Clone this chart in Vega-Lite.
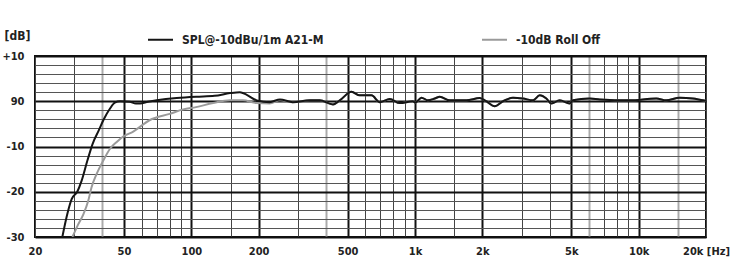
{
  "$schema": "https://vega.github.io/schema/vega-lite/v6.json",
  "autosize": {"type": "none"},
  "width": 671,
  "height": 181,
  "padding": {"left": 35, "top": 56, "right": 28, "bottom": 42},
  "background": "white",
  "config": {
    "font": "Liberation Sans Narrow, DejaVu Sans Condensed, Liberation Sans",
    "view": {"stroke": "#111", "strokeWidth": 2}
  },
  "data": {"values": [
    {"f": 29.4, "db": -30, "s": "-10dB Roll Off"},
    {"f": 31.2, "db": -27.2, "s": "-10dB Roll Off"},
    {"f": 32.9, "db": -25, "s": "-10dB Roll Off"},
    {"f": 34.6, "db": -22, "s": "-10dB Roll Off"},
    {"f": 35.8, "db": -19, "s": "-10dB Roll Off"},
    {"f": 37.7, "db": -16.1, "s": "-10dB Roll Off"},
    {"f": 40.4, "db": -13.1, "s": "-10dB Roll Off"},
    {"f": 43.3, "db": -10.5, "s": "-10dB Roll Off"},
    {"f": 46.4, "db": -9.0, "s": "-10dB Roll Off"},
    {"f": 49.6, "db": -7.8, "s": "-10dB Roll Off"},
    {"f": 55, "db": -6.7, "s": "-10dB Roll Off"},
    {"f": 65, "db": -4.2, "s": "-10dB Roll Off"},
    {"f": 80, "db": -2.8, "s": "-10dB Roll Off"},
    {"f": 92, "db": -1.8, "s": "-10dB Roll Off"},
    {"f": 105, "db": -1.3, "s": "-10dB Roll Off"},
    {"f": 125, "db": -0.4, "s": "-10dB Roll Off"},
    {"f": 149, "db": 0.2, "s": "-10dB Roll Off"},
    {"f": 170, "db": 0.2, "s": "-10dB Roll Off"},
    {"f": 196, "db": -0.4, "s": "-10dB Roll Off"},
    {"f": 224, "db": -0.5, "s": "-10dB Roll Off"},
    {"f": 249, "db": 0.2, "s": "-10dB Roll Off"},
    {"f": 284, "db": -0.2, "s": "-10dB Roll Off"},
    {"f": 339, "db": 0.2, "s": "-10dB Roll Off"},
    {"f": 375, "db": 0.2, "s": "-10dB Roll Off"},
    {"f": 430, "db": -0.7, "s": "-10dB Roll Off"},
    {"f": 461, "db": 0.2, "s": "-10dB Roll Off"},
    {"f": 520, "db": 2.1, "s": "-10dB Roll Off"},
    {"f": 566, "db": 1.3, "s": "-10dB Roll Off"},
    {"f": 639, "db": 1.3, "s": "-10dB Roll Off"},
    {"f": 696, "db": -0.2, "s": "-10dB Roll Off"},
    {"f": 771, "db": 0.5, "s": "-10dB Roll Off"},
    {"f": 855, "db": -0.4, "s": "-10dB Roll Off"},
    {"f": 977, "db": 0, "s": "-10dB Roll Off"},
    {"f": 1004, "db": -0.3, "s": "-10dB Roll Off"},
    {"f": 1069, "db": 0.8, "s": "-10dB Roll Off"},
    {"f": 1143, "db": 0.2, "s": "-10dB Roll Off"},
    {"f": 1225, "db": 0.6, "s": "-10dB Roll Off"},
    {"f": 1290, "db": 1.0, "s": "-10dB Roll Off"},
    {"f": 1430, "db": 0.2, "s": "-10dB Roll Off"},
    {"f": 1698, "db": 0.2, "s": "-10dB Roll Off"},
    {"f": 1946, "db": 0.7, "s": "-10dB Roll Off"},
    {"f": 2084, "db": 0, "s": "-10dB Roll Off"},
    {"f": 2271, "db": -1.1, "s": "-10dB Roll Off"},
    {"f": 2474, "db": 0, "s": "-10dB Roll Off"},
    {"f": 2742, "db": 0.8, "s": "-10dB Roll Off"},
    {"f": 3040, "db": 0.6, "s": "-10dB Roll Off"},
    {"f": 3370, "db": 0.2, "s": "-10dB Roll Off"},
    {"f": 3610, "db": 1.3, "s": "-10dB Roll Off"},
    {"f": 3866, "db": 0.6, "s": "-10dB Roll Off"},
    {"f": 4072, "db": -0.5, "s": "-10dB Roll Off"},
    {"f": 4436, "db": 0.2, "s": "-10dB Roll Off"},
    {"f": 4912, "db": -0.5, "s": "-10dB Roll Off"},
    {"f": 5084, "db": 0.2, "s": "-10dB Roll Off"},
    {"f": 6036, "db": 0.6, "s": "-10dB Roll Off"},
    {"f": 6694, "db": 0.4, "s": "-10dB Roll Off"},
    {"f": 9114, "db": 0.2, "s": "-10dB Roll Off"},
    {"f": 11996, "db": 0.6, "s": "-10dB Roll Off"},
    {"f": 13292, "db": 0.2, "s": "-10dB Roll Off"},
    {"f": 15240, "db": 0.8, "s": "-10dB Roll Off"},
    {"f": 17472, "db": 0.6, "s": "-10dB Roll Off"},
    {"f": 19366, "db": 0.2, "s": "-10dB Roll Off"},
    {"f": 20000, "db": 0.1, "s": "-10dB Roll Off"},
    {"f": 26.5, "db": -30, "s": "SPL@-10dBu/1m A21-M"},
    {"f": 28.0, "db": -24.6, "s": "SPL@-10dBu/1m A21-M"},
    {"f": 29.2, "db": -21.6, "s": "SPL@-10dBu/1m A21-M"},
    {"f": 30.9, "db": -20, "s": "SPL@-10dBu/1m A21-M"},
    {"f": 32.3, "db": -17.6, "s": "SPL@-10dBu/1m A21-M"},
    {"f": 34.3, "db": -13.1, "s": "SPL@-10dBu/1m A21-M"},
    {"f": 36.2, "db": -9.4, "s": "SPL@-10dBu/1m A21-M"},
    {"f": 38.6, "db": -6.4, "s": "SPL@-10dBu/1m A21-M"},
    {"f": 40.4, "db": -4.2, "s": "SPL@-10dBu/1m A21-M"},
    {"f": 43.3, "db": -1.6, "s": "SPL@-10dBu/1m A21-M"},
    {"f": 45.5, "db": -0.3, "s": "SPL@-10dBu/1m A21-M"},
    {"f": 48, "db": 0, "s": "SPL@-10dBu/1m A21-M"},
    {"f": 53, "db": -0.1, "s": "SPL@-10dBu/1m A21-M"},
    {"f": 56.5, "db": -0.5, "s": "SPL@-10dBu/1m A21-M"},
    {"f": 59, "db": -0.5, "s": "SPL@-10dBu/1m A21-M"},
    {"f": 64, "db": -0.1, "s": "SPL@-10dBu/1m A21-M"},
    {"f": 70, "db": 0.2, "s": "SPL@-10dBu/1m A21-M"},
    {"f": 86, "db": 0.7, "s": "SPL@-10dBu/1m A21-M"},
    {"f": 105, "db": 1.0, "s": "SPL@-10dBu/1m A21-M"},
    {"f": 127, "db": 1.2, "s": "SPL@-10dBu/1m A21-M"},
    {"f": 149, "db": 1.8, "s": "SPL@-10dBu/1m A21-M"},
    {"f": 165, "db": 2.0, "s": "SPL@-10dBu/1m A21-M"},
    {"f": 177, "db": 1.4, "s": "SPL@-10dBu/1m A21-M"},
    {"f": 196, "db": 0.2, "s": "SPL@-10dBu/1m A21-M"},
    {"f": 224, "db": -0.2, "s": "SPL@-10dBu/1m A21-M"},
    {"f": 249, "db": 0.4, "s": "SPL@-10dBu/1m A21-M"},
    {"f": 284, "db": -0.2, "s": "SPL@-10dBu/1m A21-M"},
    {"f": 339, "db": 0.2, "s": "SPL@-10dBu/1m A21-M"},
    {"f": 375, "db": 0.2, "s": "SPL@-10dBu/1m A21-M"},
    {"f": 430, "db": -0.7, "s": "SPL@-10dBu/1m A21-M"},
    {"f": 461, "db": 0.2, "s": "SPL@-10dBu/1m A21-M"},
    {"f": 520, "db": 2.1, "s": "SPL@-10dBu/1m A21-M"},
    {"f": 566, "db": 1.3, "s": "SPL@-10dBu/1m A21-M"},
    {"f": 639, "db": 1.3, "s": "SPL@-10dBu/1m A21-M"},
    {"f": 696, "db": -0.2, "s": "SPL@-10dBu/1m A21-M"},
    {"f": 771, "db": 0.5, "s": "SPL@-10dBu/1m A21-M"},
    {"f": 855, "db": -0.4, "s": "SPL@-10dBu/1m A21-M"},
    {"f": 977, "db": 0, "s": "SPL@-10dBu/1m A21-M"},
    {"f": 1004, "db": -0.3, "s": "SPL@-10dBu/1m A21-M"},
    {"f": 1069, "db": 0.8, "s": "SPL@-10dBu/1m A21-M"},
    {"f": 1143, "db": 0.2, "s": "SPL@-10dBu/1m A21-M"},
    {"f": 1225, "db": 0.6, "s": "SPL@-10dBu/1m A21-M"},
    {"f": 1290, "db": 1.0, "s": "SPL@-10dBu/1m A21-M"},
    {"f": 1430, "db": 0.2, "s": "SPL@-10dBu/1m A21-M"},
    {"f": 1698, "db": 0.2, "s": "SPL@-10dBu/1m A21-M"},
    {"f": 1946, "db": 0.7, "s": "SPL@-10dBu/1m A21-M"},
    {"f": 2084, "db": 0, "s": "SPL@-10dBu/1m A21-M"},
    {"f": 2271, "db": -1.1, "s": "SPL@-10dBu/1m A21-M"},
    {"f": 2474, "db": 0, "s": "SPL@-10dBu/1m A21-M"},
    {"f": 2742, "db": 0.8, "s": "SPL@-10dBu/1m A21-M"},
    {"f": 3040, "db": 0.6, "s": "SPL@-10dBu/1m A21-M"},
    {"f": 3370, "db": 0.2, "s": "SPL@-10dBu/1m A21-M"},
    {"f": 3610, "db": 1.3, "s": "SPL@-10dBu/1m A21-M"},
    {"f": 3866, "db": 0.6, "s": "SPL@-10dBu/1m A21-M"},
    {"f": 4072, "db": -0.5, "s": "SPL@-10dBu/1m A21-M"},
    {"f": 4436, "db": 0.2, "s": "SPL@-10dBu/1m A21-M"},
    {"f": 4912, "db": -0.5, "s": "SPL@-10dBu/1m A21-M"},
    {"f": 5084, "db": 0.2, "s": "SPL@-10dBu/1m A21-M"},
    {"f": 6036, "db": 0.6, "s": "SPL@-10dBu/1m A21-M"},
    {"f": 6694, "db": 0.4, "s": "SPL@-10dBu/1m A21-M"},
    {"f": 9114, "db": 0.2, "s": "SPL@-10dBu/1m A21-M"},
    {"f": 11996, "db": 0.6, "s": "SPL@-10dBu/1m A21-M"},
    {"f": 13292, "db": 0.2, "s": "SPL@-10dBu/1m A21-M"},
    {"f": 15240, "db": 0.8, "s": "SPL@-10dBu/1m A21-M"},
    {"f": 17472, "db": 0.6, "s": "SPL@-10dBu/1m A21-M"},
    {"f": 19366, "db": 0.2, "s": "SPL@-10dBu/1m A21-M"},
    {"f": 20000, "db": 0.1, "s": "SPL@-10dBu/1m A21-M"}
  ]},
  "mark": {"type": "line", "strokeWidth": 2, "clip": true, "interpolate": "monotone"},
  "encoding": {
    "x": {
      "field": "f", "type": "quantitative",
      "scale": {"type": "log", "domain": [20, 20000], "nice": false},
      "axis": {
        "title": null,
        "values": [20,30,40,50,60,70,80,90,100,150,200,300,400,500,600,700,800,900,1000,1500,2000,3000,4000,5000,6000,7000,8000,9000,10000,15000,20000],
        "labelExpr": "datum.value == 20000 ? '20k [Hz]' : indexof([1000,2000,5000,10000], datum.value) >= 0 ? (datum.value/1000) + 'k' : indexof([20,50,100,200,500], datum.value) >= 0 ? '' + datum.value : ''",
        "labelFlush": false,
        "labelOverlap": false,
        "labelBound": false,
        "ticks": false,
        "domain": false,
        "labelPadding": 8,
        "labelFontSize": 11,
        "labelFontWeight": "bold",
        "labelColor": "#222",
        "gridColor": {"condition": [
          {"test": "indexof([50,100,200,500,1000,2000,5000,10000], datum.value) >= 0", "value": "#111"},
          {"test": "indexof([40,400,6000,15000], datum.value) >= 0", "value": "#aaa"}
        ], "value": "#444"},
        "gridWidth": {"condition": [
          {"test": "indexof([50,100,200,500,1000,2000,5000,10000], datum.value) >= 0", "value": 2},
          {"test": "indexof([40,400,6000,15000], datum.value) >= 0", "value": 2}
        ], "value": 1},
        "gridOpacity": 1
      }
    },
    "y": {
      "field": "db", "type": "quantitative",
      "scale": {"domain": [-30, 10], "nice": false, "zero": false},
      "axis": {
        "title": "[dB]",
        "titleAngle": 0,
        "titleAlign": "center",
        "titleBaseline": "alphabetic",
        "titleX": -18,
        "titleY": -17,
        "titleFontSize": 12,
        "titleFontWeight": "bold",
        "titleColor": "#222",
        "values": [-30,-28,-26,-24,-22,-20,-18,-16,-14,-12,-10,-8,-6,-4,-2,0,2,4,6,8,10],
        "labelExpr": "datum.value == 10 ? '+10' : datum.value == 0 ? '90' : datum.value % 10 == 0 ? '' + datum.value : ''",
        "labelOverlap": false,
        "labelBound": false,
        "labelFlush": false,
        "ticks": false,
        "domain": false,
        "labelPadding": 11,
        "labelFontSize": 11,
        "labelFontWeight": "bold",
        "labelColor": "#222",
        "gridColor": {"condition": {"test": "datum.value % 10 == 0", "value": "#111"}, "value": "#555"},
        "gridWidth": {"condition": {"test": "datum.value % 10 == 0", "value": 2}, "value": 1},
        "gridOpacity": 1
      }
    },
    "color": {
      "field": "s", "type": "nominal",
      "scale": {"domain": ["SPL@-10dBu/1m A21-M", "-10dB Roll Off"], "range": ["#151515", "#9a9a9a"]},
      "legend": {
        "title": null,
        "orient": "none",
        "legendX": 112,
        "legendY": -30,
        "direction": "horizontal",
        "symbolType": "stroke",
        "symbolSize": 625,
        "symbolStrokeWidth": 2,
        "labelOffset": 8,
        "columnPadding": 154,
        "labelFontSize": 12,
        "labelFontWeight": "bold",
        "labelColor": "#222",
        "labelLimit": 300
      }
    }
  }
}
